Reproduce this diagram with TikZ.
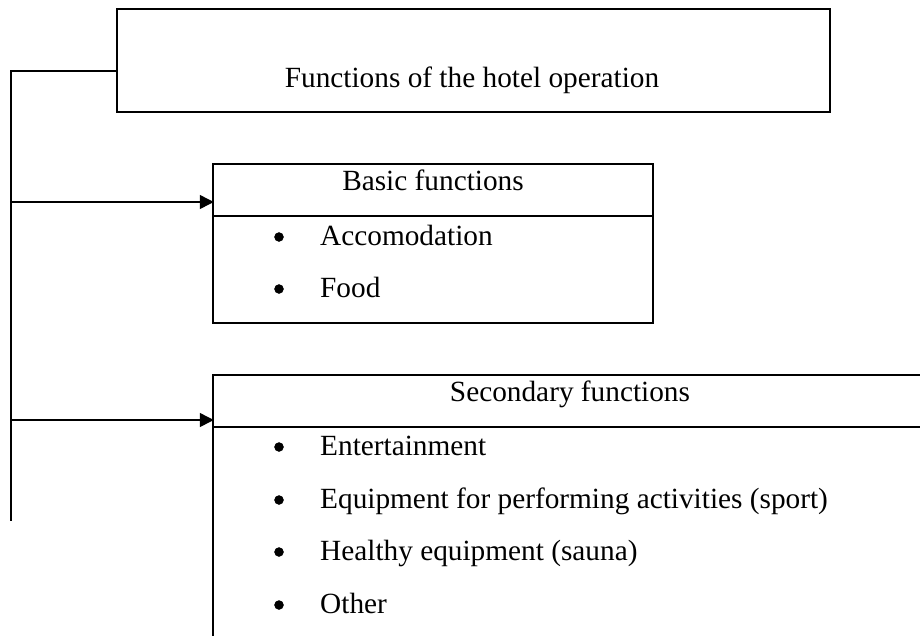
\documentclass[tikz,border=0pt]{standalone}
\usepackage{fontspec}
\setmainfont{Liberation Serif}
\usetikzlibrary{arrows.meta}
\begin{document}
\begin{tikzpicture}[x=1pt,y=-1pt,
  box/.style={draw,line width=1.5pt,inner sep=0pt},
  conn/.style={line width=1.5pt},
  arr/.style={conn,-{Triangle[length=14pt,width=14pt]},shorten >=-1.5pt},
  txt/.style={inner sep=0pt,anchor=base,font=\fontsize{29.3}{35}\selectfont},
  itm/.style={txt,anchor=base west},
  bul/.style={circle,draw=black,fill=black,inner sep=0pt,minimum size=9pt}]
\clip (0,0) rectangle (920,635);
\fill[white] (0,0) rectangle (920,635);
% top box
\node[box,minimum width=713pt,minimum height=103pt] (top) at (473.5,60.5) {};
\node[txt] (toptxt) at (472,87) {Functions of the hotel operation};
% basic box
\node[box,minimum width=440pt,minimum height=159pt] (basic) at (433,243.5) {};
\draw[conn] (basic.west |- 0,216) coordinate (bdl) -- (bdl -| basic.east) coordinate (bdr);
\node[txt] (btitle) at (433,190) {Basic functions};
\node[bul] (bb1) at (279,237) {};
\node[itm] (bi1) at (320,245) {Accomodation};
\node[bul] (bb2) at (279,289) {};
\node[itm] (bi2) at (320,297) {Food};
% secondary box
\node[box,minimum width=720pt,minimum height=300pt] (sec) at (573,525) {};
\draw[conn] (sec.west |- 0,427) coordinate (sdl) -- (sdl -| sec.east) coordinate (sdr);
\node[txt] (stitle) at (570,401) {Secondary functions};
\node[bul] (sb1) at (279,447) {};
\node[itm] (si1) at (320,455) {Entertainment};
\node[bul] (sb2) at (279,500) {};
\node[itm] (si2) at (320,508) {Equipment for performing activities (sport)};
\node[bul] (sb3) at (279,552) {};
\node[itm] (si3) at (320,560) {Healthy equipment (sauna)};
\node[bul] (sb4) at (279,605) {};
\node[itm] (si4) at (320,613) {Other};
% trunk
\coordinate (t0) at (11,71);
\coordinate (t1) at (11,202);
\coordinate (t2) at (11,420);
\coordinate (tend) at (11,521);
\draw[conn] (top.west |- t0) -- (t0) -- (tend);
\draw[arr] (t1) -- (t1 -| basic.west);
\draw[arr] (t2) -- (t2 -| sec.west);
\end{tikzpicture}
\end{document}
